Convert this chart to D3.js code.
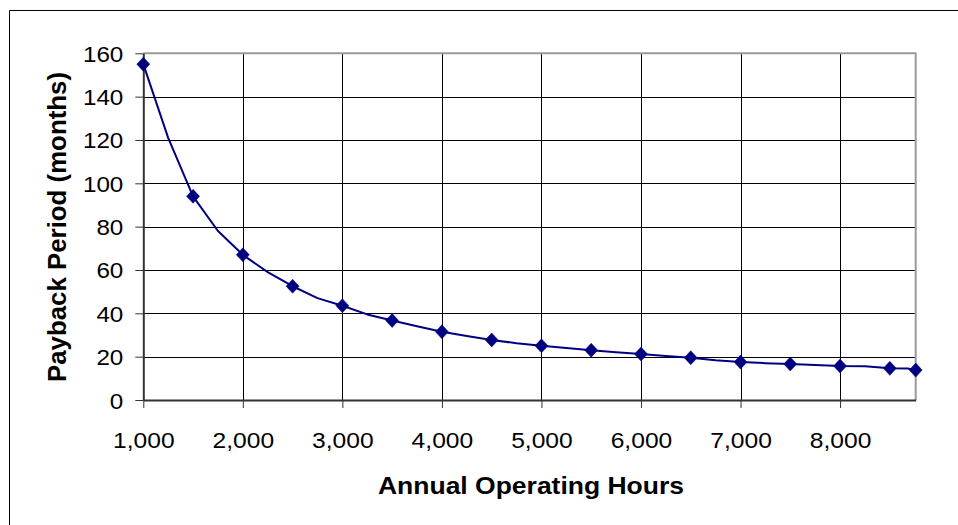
<!DOCTYPE html>
<html>
<head>
<meta charset="utf-8">
<script src="https://cdn.jsdelivr.net/npm/d3@7"></script>
<style>
  html, body { margin: 0; padding: 0; background: #fff; }
  svg { display: block; }
  text { font-family: "Liberation Sans", Arial, sans-serif; }
</style>
</head>
<body>
<svg id="chart" width="958" height="525"></svg>
<script>
// ---- data ----
const markerHours = [1000, 1500, 2000, 2500, 3000, 3500, 4000, 4500, 5000, 5500, 6000, 6500, 7000, 7500, 8000, 8500, 8760];
const markerMonths = [155, 94, 67, 52.5, 43.5, 36.7, 31.5, 27.7, 25, 23, 21.2, 19.5, 17.5, 16.6, 15.7, 14.6, 13.8];
const lineHours = [1000, 1250, 1500, 1750, 2000, 2250, 2500, 2750, 3000, 3250, 3500, 3750, 4000, 4250, 4500, 4750, 5000, 5250, 5500, 5750, 6000, 6250, 6500, 6750, 7000, 7250, 7500, 7750, 8000, 8250, 8500, 8680, 8760];
const lineMonths = [155, 121, 94, 78, 67, 59, 52.5, 47, 43.5, 39.5, 36.7, 34, 31.5, 29.5, 27.7, 26.2, 25, 24, 23, 22, 21.2, 20.3, 19.5, 18.3, 17.5, 17, 16.6, 16.1, 15.7, 15.6, 14.6, 14.5, 13.8];
const xTicks = [1000, 2000, 3000, 4000, 5000, 6000, 7000, 8000];
const yTicks = [0, 20, 40, 60, 80, 100, 120, 140, 160];
const xTitle = "Annual Operating Hours";
const yTitle = "Payback Period (months)";

// ---- layout ----
const svg = d3.select("#chart");
const L = 143.3, R = 915.7, T = 53.3, B = 400;
const x = d3.scaleLinear().domain([1000, 8760]).range([L, R]);
const y = d3.scaleLinear().domain([0, 160]).range([B, T]);
const navy = "#000080";

// outer frame (top and left edges visible)
svg.append("path").attr("d", "M9.5,525 V10.5 H958")
  .attr("fill", "none").attr("stroke", "#000").attr("stroke-width", 1);

// gridlines
const grid = svg.append("g");
grid.selectAll("line.h").data(yTicks.filter(v => v > 0 && v < 160)).join("line")
  .attr("x1", L).attr("x2", R)
  .attr("y1", d => Math.round(y(d)) + 0.5).attr("y2", d => Math.round(y(d)) + 0.5)
  .attr("stroke", "#000").attr("stroke-width", 1);
grid.selectAll("line.v").data(xTicks.filter(v => v > 1000)).join("line")
  .attr("y1", T).attr("y2", B)
  .attr("x1", d => Math.round(x(d)) + 0.5).attr("x2", d => Math.round(x(d)) + 0.5)
  .attr("stroke", "#000").attr("stroke-width", 1);

// plot area border (top, right) in gray
svg.append("path").attr("d", `M${L},${y(160)} H${R} V${B}`)
  .attr("fill", "none").attr("stroke", "#9a9a9a").attr("stroke-width", 2);

// axes
const yAxis = svg.append("g").attr("transform", `translate(${L},0)`)
  .call(d3.axisLeft(y).tickValues(yTicks).tickSize(8).tickSizeOuter(0).tickPadding(0));
const xAxis = svg.append("g").attr("transform", `translate(0,${B})`)
  .call(d3.axisBottom(x).tickValues(xTicks).tickSize(8).tickSizeOuter(0).tickFormat(d3.format(",")));
[yAxis, xAxis].forEach(a => {
  a.select(".domain").attr("stroke", "#333").attr("stroke-width", 2);
  a.selectAll(".tick line").attr("stroke", "#333").attr("stroke-width", 1);
});
yAxis.selectAll(".tick text")
  .attr("x", 0).attr("dy", null)
  .attr("font-size", 22).attr("fill", "#000")
  .attr("text-anchor", "end")
  .attr("transform", "translate(-20,8) scale(1.1,1)");
xAxis.selectAll(".tick text")
  .attr("y", 0).attr("dy", null)
  .attr("font-size", 22).attr("fill", "#000")
  .attr("text-anchor", "middle")
  .attr("transform", "translate(0,48) scale(1.12,1)");

// line
const line = d3.line().x((d, i) => x(lineHours[i])).y(d => y(d));
svg.append("path").datum(lineMonths)
  .attr("d", line)
  .attr("fill", "none").attr("stroke", navy).attr("stroke-width", 2)
  .attr("stroke-linejoin", "round");

// markers (diamonds)
svg.append("g").selectAll("path").data(markerMonths).join("path")
  .attr("transform", (d, i) => `translate(${x(markerHours[i])},${y(d)})`)
  .attr("d", "M0,-7 L6.5,0 L0,7 L-6.5,0 Z")
  .attr("fill", navy).attr("stroke", navy).attr("stroke-width", 0.5);

// axis titles
svg.append("text")
  .attr("x", 531).attr("y", 494)
  .attr("text-anchor", "middle")
  .attr("font-size", 24).attr("font-weight", "bold")
  .attr("textLength", 306).attr("lengthAdjust", "spacingAndGlyphs")
  .text(xTitle);
svg.append("text")
  .attr("transform", "translate(66,227) rotate(-90)")
  .attr("text-anchor", "middle")
  .attr("font-size", 25).attr("font-weight", "bold")
  .attr("textLength", 310).attr("lengthAdjust", "spacingAndGlyphs")
  .text(yTitle);
</script>
</body>
</html>
